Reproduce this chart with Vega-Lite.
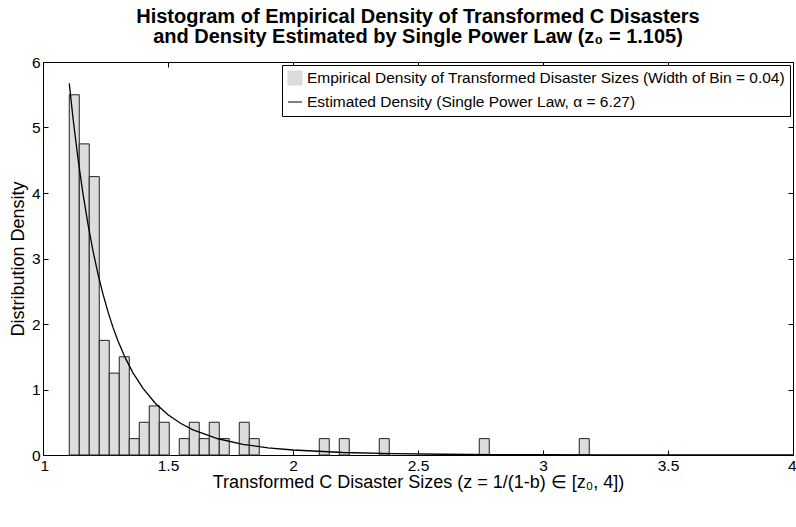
{
  "$schema": "https://vega.github.io/schema/vega-lite/v6.json",
  "width": 750,
  "height": 393,
  "autosize": {"type": "none"},
  "padding": {"left": 43, "top": 62, "right": 3, "bottom": 72},
  "background": "white",
  "config": {
    "font": "Liberation Sans",
    "view": {"stroke": "black", "strokeWidth": 1},
    "axis": {
      "grid": false,
      "domainColor": "black",
      "domainWidth": 1,
      "tickColor": "black",
      "tickWidth": 1,
      "tickSize": -5,
      "labelColor": "black",
      "titleColor": "black",
      "labelFont": "Liberation Sans",
      "titleFont": "Liberation Sans",
      "labelFontSize": 15.5,
      "titleFontSize": 18,
      "titleFontWeight": "normal"
    }
  },
  "title": {
    "text": [
      "Histogram of Empirical Density of Transformed C Disasters",
      "and Density Estimated by Single Power Law (z₀ = 1.105)"
    ],
    "font": "Liberation Sans",
    "fontSize": 20,
    "fontWeight": "bold",
    "color": "black",
    "anchor": "middle",
    "offset": 8,
    "lineHeight": 20
  },
  "datasets": {
    "bars": [
      {"start": 1.105, "end": 1.145, "density": 5.5},
      {"start": 1.145, "end": 1.185, "density": 4.75},
      {"start": 1.185, "end": 1.225, "density": 4.25},
      {"start": 1.225, "end": 1.265, "density": 1.75},
      {"start": 1.265, "end": 1.305, "density": 1.25},
      {"start": 1.305, "end": 1.345, "density": 1.5},
      {"start": 1.345, "end": 1.385, "density": 0.25},
      {"start": 1.385, "end": 1.425, "density": 0.5},
      {"start": 1.425, "end": 1.465, "density": 0.75},
      {"start": 1.465, "end": 1.505, "density": 0.5},
      {"start": 1.545, "end": 1.585, "density": 0.25},
      {"start": 1.585, "end": 1.625, "density": 0.5},
      {"start": 1.625, "end": 1.665, "density": 0.25},
      {"start": 1.665, "end": 1.705, "density": 0.5},
      {"start": 1.705, "end": 1.745, "density": 0.25},
      {"start": 1.785, "end": 1.825, "density": 0.5},
      {"start": 1.825, "end": 1.865, "density": 0.25},
      {"start": 2.105, "end": 2.145, "density": 0.25},
      {"start": 2.185, "end": 2.225, "density": 0.25},
      {"start": 2.345, "end": 2.385, "density": 0.25},
      {"start": 2.745, "end": 2.785, "density": 0.25},
      {"start": 3.145, "end": 3.185, "density": 0.25}
    ],
    "curve": [
      {"z": 1.105, "f": 5.674},
      {"z": 1.12, "f": 5.144},
      {"z": 1.14, "f": 4.523},
      {"z": 1.16, "f": 3.986},
      {"z": 1.18, "f": 3.52},
      {"z": 1.2, "f": 3.115},
      {"z": 1.22, "f": 2.762},
      {"z": 1.24, "f": 2.455},
      {"z": 1.26, "f": 2.185},
      {"z": 1.28, "f": 1.948},
      {"z": 1.3, "f": 1.741},
      {"z": 1.33, "f": 1.475},
      {"z": 1.36, "f": 1.254},
      {"z": 1.4, "f": 1.016},
      {"z": 1.45, "f": 0.787},
      {"z": 1.5, "f": 0.615},
      {"z": 1.55, "f": 0.485},
      {"z": 1.6, "f": 0.385},
      {"z": 1.7, "f": 0.248},
      {"z": 1.8, "f": 0.163},
      {"z": 1.9, "f": 0.11},
      {"z": 2.0, "f": 0.076},
      {"z": 2.2, "f": 0.038},
      {"z": 2.4, "f": 0.0202},
      {"z": 2.6, "f": 0.0113},
      {"z": 2.8, "f": 0.0066},
      {"z": 3.0, "f": 0.004},
      {"z": 3.25, "f": 0.0022},
      {"z": 3.5, "f": 0.0013},
      {"z": 3.75, "f": 0.0008},
      {"z": 4.0, "f": 0.0005}
    ]
  },
  "layer": [
    {
      "data": {"name": "bars"},
      "mark": {"type": "bar", "stroke": "#222222", "strokeWidth": 1},
      "encoding": {
        "x": {
          "field": "start",
          "type": "quantitative",
          "scale": {"domain": [1, 4], "nice": false, "zero": false},
          "axis": {
            "orient": "bottom",
            "values": [1, 1.5, 2, 2.5, 3, 3.5, 4],
            "format": "~g",
            "labelPadding": 8,
            "labelFlush": true,
            "labelFlushOffset": 3,
            "title": "Transformed C Disaster Sizes (z = 1/(1-b) ∈ [z₀, 4])",
            "titlePadding": 0
          }
        },
        "x2": {"field": "end"},
        "y": {
          "field": "density",
          "type": "quantitative",
          "scale": {"domain": [0, 6], "nice": false, "zero": true},
          "axis": {
            "orient": "left",
            "values": [0, 1, 2, 3, 4, 5, 6],
            "labelPadding": 8,
            "title": "Distribution Density",
            "titlePadding": 4
          }
        },
        "y2": {"datum": 0},
        "color": {
          "datum": "Empirical Density of Transformed Disaster Sizes (Width of Bin = 0.04)",
          "type": "nominal",
          "scale": {
            "domain": [
              "Empirical Density of Transformed Disaster Sizes (Width of Bin = 0.04)",
              "Estimated Density (Single Power Law, α = 6.27)"
            ],
            "range": ["#dcdcdc", "#000000"]
          },
          "legend": {
            "title": null,
            "orient": "top-right",
            "offset": 3,
            "strokeColor": "black",
            "fillColor": "white",
            "padding": 5,
            "labelFont": "Liberation Sans",
            "labelFontSize": 15.5,
            "labelColor": "black",
            "labelLimit": 0,
            "labelOffset": 4,
            "symbolSize": 200,
            "symbolStrokeColor": "#222222",
            "symbolStrokeWidth": 1,
            "rowPadding": 6,
            "encoding": {
              "symbols": {
                "shape": {"value": {"expr": "indexof(datum.label, 'Estimated') === 0 ? 'stroke' : 'square'"}},
                "fill": {"value": {"expr": "indexof(datum.label, 'Estimated') === 0 ? 'transparent' : '#dcdcdc'"}},
                "stroke": {"value": {"expr": "indexof(datum.label, 'Estimated') === 0 ? '#000000' : '#222222'"}},
                "strokeWidth": {"value": 1},
                "opacity": {"value": 1}
              }
            }
          }
        }
      }
    },
    {
      "data": {"name": "curve"},
      "mark": {"type": "line", "strokeWidth": 1.3},
      "encoding": {
        "x": {
          "field": "z",
          "type": "quantitative",
          "axis": {
            "orient": "top",
            "values": [1, 1.5, 2, 2.5, 3, 3.5, 4],
            "labels": false,
            "title": null
          }
        },
        "y": {
          "field": "f",
          "type": "quantitative",
          "axis": {
            "orient": "right",
            "values": [0, 1, 2, 3, 4, 5, 6],
            "labels": false,
            "title": null
          }
        },
        "color": {"datum": "Estimated Density (Single Power Law, α = 6.27)", "type": "nominal"}
      }
    }
  ],
  "resolve": {"axis": {"x": "independent", "y": "independent"}}
}
